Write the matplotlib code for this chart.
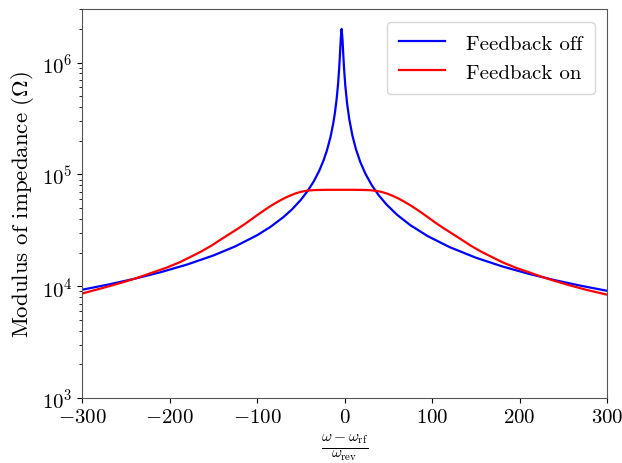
"""
    Impedance modulus with and without feedback.
"""

import matplotlib
matplotlib.use("Agg")
import matplotlib.pyplot as plt

plt.rcParams["font.family"] = "serif"
plt.rcParams["font.serif"] = ["cmr10"]
plt.rcParams["mathtext.fontset"] = "cm"
plt.rcParams["axes.formatter.use_mathtext"] = True

# feedback off (blue)
off_x = [-300, -270, -240, -210, -180, -150, -125, -100, -85, -70, -60, -50, -42, -35,
         -29, -24, -20, -16, -13, -11, -9, -7.5, -6.2, -5.2, -4.4, -3.4, -2.4, -1.6,
         -0.6, 0.8, 2.8, 5.4, 9, 13, 18, 24, 31, 39, 48, 60, 75, 95, 120, 150, 180,
         210, 240, 270, 300]
off_z = [9300, 10350, 11660, 13360, 15630, 18830, 22700, 28570, 33820, 41440, 48750,
         59200, 71460, 87260, 107660, 133680, 165700, 217750, 284580, 357330, 478590,
         638030, 884330, 1217470, 1619720, 2000000, 1619720, 1217470, 884330, 624430,
         434580, 309870, 221210, 167700, 128700, 100600, 80170, 65060, 53680, 43520,
         35200, 28050, 22370, 17990, 15050, 12930, 11340, 10100, 9100]

# feedback on (red)
on_x = [-300, -284, -266, -249, -234, -219, -204, -189, -176, -164, -152, -141, -131,
        -122, -114, -106, -99, -92, -86, -80, -74, -68, -62, -56, -50, -44, -37, -29,
        -19, -4, 11, 21, 29, 36, 42, 48, 54, 60, 66, 72, 78, 84, 91, 98, 106, 114,
        123, 133, 144, 156, 168, 181, 196, 211, 226, 241, 258, 276, 300]
on_z = [8600, 9300, 10150, 11100, 12100, 13300, 14600, 16300, 18300, 20400, 23100,
        26300, 29500, 32700, 36000, 39900, 43700, 47700, 51300, 54800, 58300, 61700,
        64800, 67600, 69800, 71300, 72200, 72600, 72800, 72800, 72800, 72600, 72200,
        71300, 69800, 67600, 64800, 61700, 58300, 54800, 51300, 47700, 43700, 39900,
        36000, 32700, 29500, 26300, 23100, 20400, 18300, 16300, 14600, 13300, 12100,
        11100, 10150, 9300, 8400]

fig = plt.figure(figsize=(6.22, 4.64), dpi=100)
ax = fig.add_axes([0.132, 0.140, 0.844, 0.838])

ax.plot(off_x, off_z, color="blue", lw=1.6, label="Feedback off")
ax.plot(on_x, on_z, color="red", lw=1.6, label="Feedback on")

ax.set_yscale("log")
ax.set_xlim(-300, 300)
ax.set_ylim(1e3, 3e6)
ax.set_xticks([-300, -200, -100, 0, 100, 200, 300])
ax.tick_params(labelsize=15)

ax.set_ylabel("Modulus of impedance ($\\Omega$)", fontsize=16.5)
ax.set_xlabel(r"$\frac{\omega - \omega_{\rm rf}}{\omega_{\rm rev}}$", fontsize=16, labelpad=4)

for s in ax.spines.values():
    s.set_color("#555555")

ax.legend(loc="upper right", fontsize=15, handlelength=2.2, handletextpad=1.0,
          borderpad=0.6, borderaxespad=0.6)

fig.savefig("out.png", dpi=100)
